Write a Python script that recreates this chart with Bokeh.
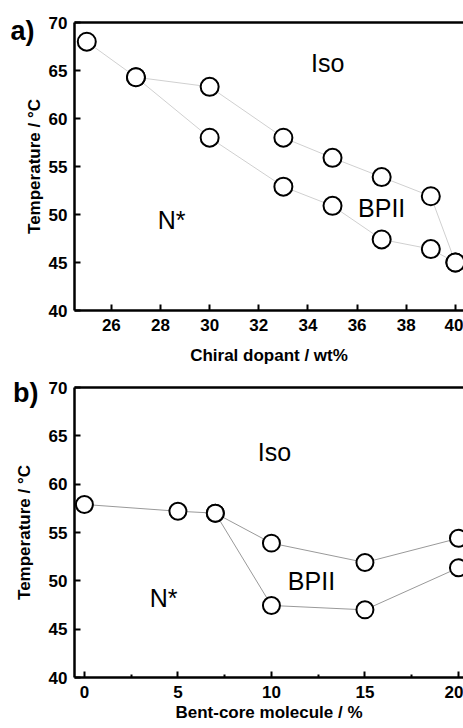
from bokeh.plotting import figure
from bokeh.layouts import column
from bokeh.models import Label, LinearAxis, FixedTicker, Range1d
from bokeh.embed import file_html
from bokeh.resources import INLINE

# Panel a data
a_upper_x = [25, 27, 30, 33, 35, 37, 39, 40]
a_upper_y = [68.0, 64.3, 63.3, 58.0, 55.9, 53.9, 51.9, 45.0]
a_lower_x = [27, 30, 33, 35, 37, 39, 40]
a_lower_y = [64.3, 58.0, 52.9, 50.9, 47.4, 46.4, 45.0]
a_xticks = [26, 28, 30, 32, 34, 36, 38, 40]

# Panel b data
b_upper_x = [0, 5, 7, 10, 15, 20]
b_upper_y = [57.9, 57.2, 57.0, 53.9, 51.9, 54.4]
b_lower_x = [7, 10, 15, 20]
b_lower_y = [57.0, 47.45, 47.0, 51.35]
b_xticks = [0, 5, 10, 15, 20]
b_xminor = [2.5, 7.5, 12.5, 17.5]

yticks = [40, 45, 50, 55, 60, 65, 70]

FONT = "Liberation Sans"


def make_panel(height, xr, border_top, border_bottom, xticks, xlabel, minor, line_color,
               ux, uy, lx, ly, phases, tag, tag_y, tag_standoff, ylab_standoff, xlab_standoff,
               tick_standoff, msize):
    p = figure(width=463, height=height, output_backend="svg", toolbar_location=None,
               x_range=Range1d(*xr), y_range=Range1d(40, 70),
               min_border_left=74, min_border_right=0,
               min_border_top=border_top, min_border_bottom=border_bottom,
               x_axis_location=None, y_axis_location=None)
    p.outline_line_color = None
    p.grid.visible = False
    p.background_fill_color = "white"
    p.border_fill_color = "white"

    xax = LinearAxis(ticker=FixedTicker(ticks=xticks, minor_ticks=minor))
    yax = LinearAxis(ticker=FixedTicker(ticks=yticks))
    top = LinearAxis(ticker=FixedTicker(ticks=[]), major_label_text_font_size="0px")
    for ax in (xax, yax):
        ax.axis_line_width = 2.5
        ax.major_tick_line_width = 2
        ax.major_tick_in = 6
        ax.major_tick_out = 0
        ax.minor_tick_in = 3
        ax.minor_tick_out = 0
        ax.minor_tick_line_width = 2
        ax.major_label_text_font = FONT
        ax.major_label_text_font_style = "bold"
        ax.major_label_text_font_size = "17px"
        ax.major_label_text_color = "black"
        ax.axis_label_text_font = FONT
        ax.axis_label_text_font_style = "bold"
        ax.axis_label_text_font_size = "17px"
        ax.axis_label_text_color = "black"
    xax.axis_label = xlabel
    xax.major_label_standoff = tick_standoff
    xax.axis_label_standoff = xlab_standoff
    yax.axis_label = "Temperature / °C"
    yax.major_label_standoff = 7
    yax.axis_label_standoff = ylab_standoff
    top.axis_line_width = 2.5
    top.major_tick_line_color = None
    top.minor_tick_line_color = None

    # panel tag ("a)" / "b)") drawn as the only label of an extra, invisible left axis
    tag_ax = LinearAxis(ticker=FixedTicker(ticks=[tag_y], minor_ticks=[]),
                        major_label_overrides={tag_y: tag})
    tag_ax.axis_line_color = None
    tag_ax.major_tick_line_color = None
    tag_ax.minor_tick_line_color = None
    tag_ax.major_tick_in = 0
    tag_ax.major_tick_out = 0
    tag_ax.major_label_text_font = FONT
    tag_ax.major_label_text_font_style = "bold"
    tag_ax.major_label_text_font_size = "27px"
    tag_ax.major_label_text_color = "black"
    tag_ax.major_label_standoff = tag_standoff

    p.add_layout(xax, "below")
    p.add_layout(yax, "left")
    p.add_layout(tag_ax, "left")
    p.add_layout(top, "above")

    p.line(ux, uy, line_color=line_color, line_width=1)
    p.line(lx, ly, line_color=line_color, line_width=1)
    p.scatter(ux, uy, size=msize, fill_color="white", line_color="black", line_width=2)
    p.scatter(lx, ly, size=msize, fill_color="white", line_color="black", line_width=2)

    for txt, x, y in phases:
        p.add_layout(Label(x=x, y=y, text=txt, text_font=FONT, text_font_size="25px",
                           text_align="center", text_baseline="middle", text_color="black"))
    return p


pa = make_panel(368, (24.5, 40.33), 22, 58, a_xticks, "Chiral dopant / wt%", [], "#d0d0d0",
                a_upper_x, a_upper_y, a_lower_x, a_lower_y,
                [("Iso", 34.8, 65.8), ("BPII", 37.0, 50.7), ("N*", 28.45, 49.4)],
                "a)", 69.1, -13, 2, 12, 8, 18)
pb = make_panel(360, (-0.53, 20.27), 19, 51, b_xticks, "Bent-core molecule / %", b_xminor, "#999999",
                b_upper_x, b_upper_y, b_lower_x, b_lower_y,
                [("Iso", 10.16, 63.3), ("BPII", 12.14, 50.0), ("N*", 4.23, 48.2)],
                "b)", 69.4, -27, 12, 2, 8, 17)

layout = column(pa, pb, spacing=0)
open("out.html", "w").write(file_html(layout, INLINE))
